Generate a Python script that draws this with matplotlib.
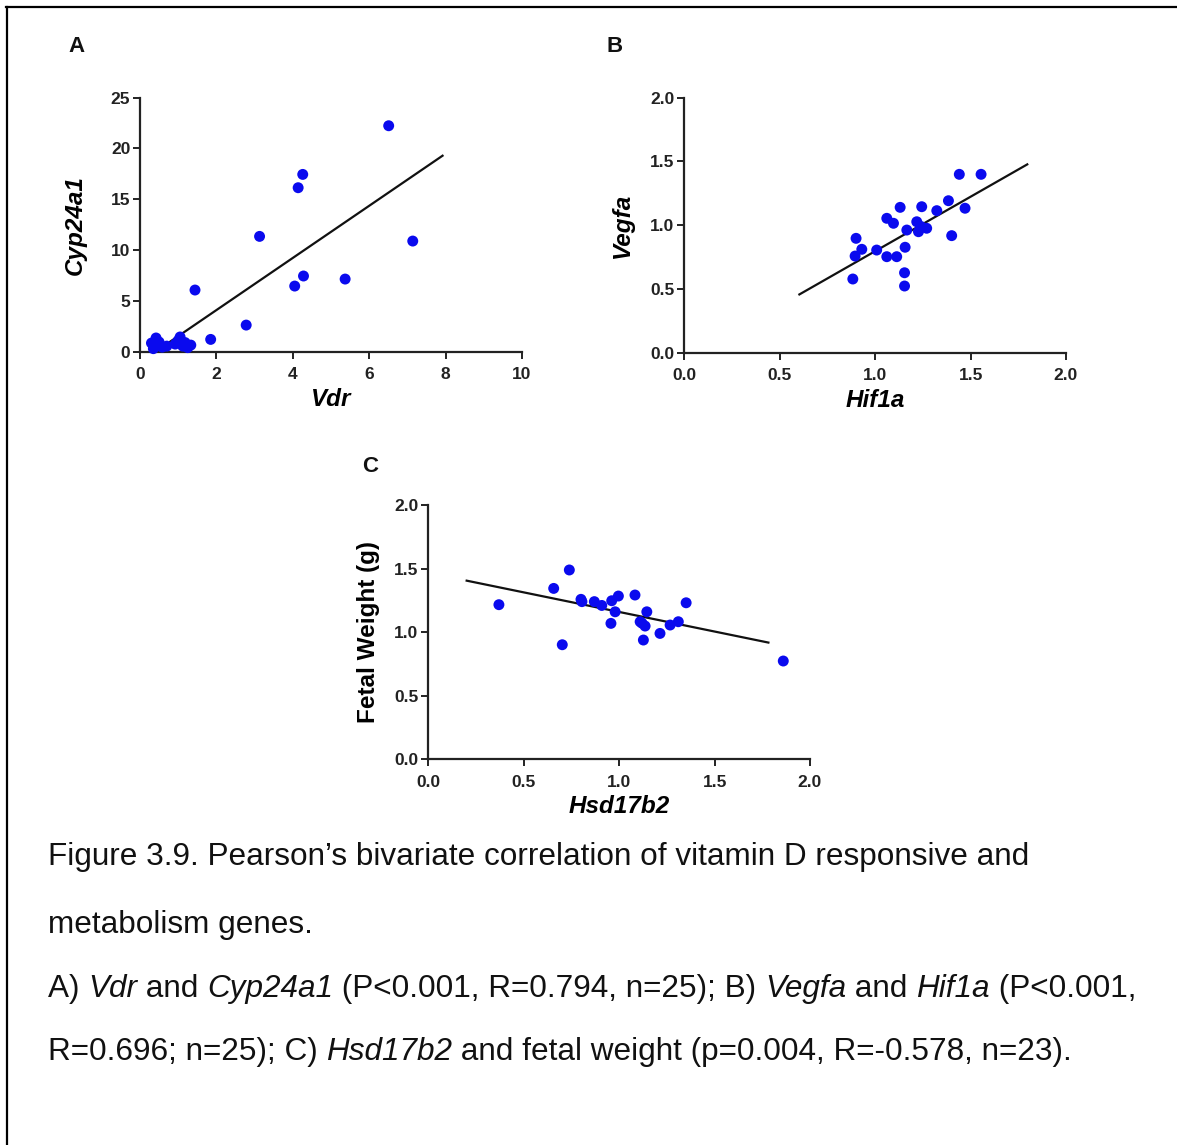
import matplotlib
matplotlib.use('Agg')
import matplotlib.pyplot as plt
from matplotlib.lines import Line2D

plt.rcParams['font.family'] = ['Liberation Sans', 'DejaVu Sans']

# A) Vdr vs Cyp24a1
vdr = [6.51, 4.26, 4.14, 3.13, 7.14, 4.28, 4.05, 5.37, 1.44, 2.78, 1.85,
       0.30, 0.35, 0.42, 0.45, 0.50, 0.58, 0.70,
       0.92, 1.00, 1.05, 1.12, 1.18, 1.25, 1.33]
cyp24a1 = [22.24, 17.45, 16.14, 11.35, 10.89, 7.45, 6.46, 7.15, 6.07, 2.62, 1.21,
           0.85, 0.30, 1.35, 0.60, 0.95, 0.45, 0.55,
           0.75, 1.10, 1.45, 0.55, 0.90, 0.40, 0.65]
fit_x_a = [0.79, 7.92]
fit_y_a = [0.99, 19.29]

# B) Hif1a vs Vegfa
hif1a = [1.441, 1.555, 1.131, 1.244, 1.384, 1.323, 1.471, 1.061, 1.096, 1.218,
         1.166, 1.227, 1.270, 1.401, 0.900, 0.930, 0.895, 1.008, 1.061, 1.113,
         1.157, 1.154, 1.154, 0.883, 1.240]
vegfa = [1.399, 1.399, 1.140, 1.145, 1.192, 1.114, 1.133, 1.054, 1.015, 1.027,
         0.962, 0.949, 0.976, 0.918, 0.897, 0.811, 0.758, 0.805, 0.753, 0.753,
         0.827, 0.627, 0.523, 0.578, 0.990]
fit_x_b = [0.603, 1.797]
fit_y_b = [0.457, 1.477]

# C) Hsd17b2 vs fetal weight
hsd17b2 = [0.370, 0.657, 0.739, 0.702, 0.800, 0.805, 0.870, 0.909, 0.961, 0.996,
           1.083, 0.979, 0.957, 1.145, 1.110, 1.136, 1.127, 1.214, 1.267, 1.310,
           1.351, 1.860, 1.120]
fetal_weight = [1.216, 1.344, 1.489, 0.901, 1.258, 1.240, 1.240, 1.210, 1.247, 1.284,
                1.292, 1.160, 1.069, 1.160, 1.082, 1.048, 0.938, 0.990, 1.056, 1.082,
                1.231, 0.773, 1.070]
fit_x_c = [0.201, 1.782]
fit_y_c = [1.405, 0.918]

W, H = 1177, 1145
fig = plt.figure(figsize=(W / 100, H / 100), dpi=100)


def px_axes(x0, y0, x1, y1):
    # pixel box (left, top, right, bottom) -> axes
    return fig.add_axes([x0 / W, 1 - y1 / H, (x1 - x0) / W, (y1 - y0) / H])


def style(ax, xlim, ylim, xticks, yticks, xfmt, yfmt):
    ax.set_xlim(*xlim)
    ax.set_ylim(*ylim)
    ax.set_xticks(xticks)
    ax.set_yticks(yticks)
    ax.set_xticklabels([xfmt.format(t) for t in xticks])
    ax.set_yticklabels([yfmt.format(t) for t in yticks])
    for s in ['top', 'right']:
        ax.spines[s].set_visible(False)
    for s in ['left', 'bottom']:
        ax.spines[s].set_linewidth(1.6)
        ax.spines[s].set_color('#222222')
    ax.tick_params(direction='out', length=5, width=1.4, colors='#222222',
                   labelsize=12.5)
    ax.tick_params(axis='x', pad=6)
    ax.tick_params(axis='y', pad=2)
    for lab in ax.get_xticklabels() + ax.get_yticklabels():
        lab.set_fontweight('bold')
    ax.patch.set_alpha(0)


def panel(ax, x, y, fx, fy):
    ax.scatter(x, y, s=62, color='#0a0aee', edgecolors='none', zorder=3, clip_on=False)
    ax.plot(fx, fy, color='#111111', lw=1.6, zorder=2)


LBL = dict(fontsize=17.5, fontweight='bold')

axA = px_axes(140, 97.7, 522, 351.7)
panel(axA, vdr, cyp24a1, fit_x_a, fit_y_a)
style(axA, (0, 10), (0, 25), [0, 2, 4, 6, 8, 10], [0, 5, 10, 15, 20, 25], '{:d}', '{:d}')
axA.set_xlabel('Vdr', style='italic', labelpad=4, **LBL)
axA.set_ylabel('Cyp24a1', style='italic', labelpad=17, **LBL)

axB = px_axes(684.3, 97.7, 1066, 352.7)
panel(axB, hif1a, vegfa, fit_x_b, fit_y_b)
style(axB, (0, 2), (0, 2), [0, 0.5, 1, 1.5, 2], [0, 0.5, 1, 1.5, 2], '{:.1f}', '{:.1f}')
axB.set_xlabel('Hif1a', style='italic', labelpad=4, **LBL)
axB.set_ylabel('Vegfa', style='italic', labelpad=12, **LBL)

axC = px_axes(428.3, 505, 810, 759.3)
panel(axC, hsd17b2, fetal_weight, fit_x_c, fit_y_c)
style(axC, (0, 2), (0, 2), [0, 0.5, 1, 1.5, 2], [0, 0.5, 1, 1.5, 2], '{:.1f}', '{:.1f}')
axC.set_xlabel('Hsd17b2', style='italic', labelpad=4, **LBL)
axC.set_ylabel('Fetal Weight (g)', labelpad=10, **LBL)

for letter, xp, yp in [('A', 68, 46), ('B', 607, 46), ('C', 362, 466)]:
    fig.text(xp / W, 1 - yp / H, letter, fontsize=16, fontweight='bold',
             ha='left', va='center', color='#111111')

# caption, (text, italic) runs per line
cap = [
    [('Figure 3.9. Pearson\u2019s bivariate correlation of vitamin D responsive and', False)],
    [('metabolism genes.', False)],
    [('A) ', False), ('Vdr', True), (' and ', False), ('Cyp24a1', True),
     (' (P<0.001, R=0.794, n=25); B) ', False), ('Vegfa', True), (' and ', False),
     ('Hif1a', True), (' (P<0.001,', False)],
    [('R=0.696; n=25); C) ', False), ('Hsd17b2', True),
     (' and fetal weight (p=0.004, R=-0.578, n=23).', False)],
]
cap_y = [857, 925, 989, 1052]
renderer = fig.canvas.get_renderer()
for runs, yp in zip(cap, cap_y):
    xpix = 48
    for txt, it in runs:
        t = fig.text(xpix / W, 1 - yp / H, txt, fontsize=22.7, ha='left', va='center',
                     style='italic' if it else 'normal', color='#111111')
        xpix += t.get_window_extent(renderer).width

# frame (top and left only)
fig.add_artist(Line2D([6 / W, 1], [1 - 6.5 / H, 1 - 6.5 / H], color='black', lw=1.6,
                      transform=fig.transFigure))
fig.add_artist(Line2D([6.5 / W, 6.5 / W], [0, 1 - 6.5 / H], color='black', lw=1.6,
                      transform=fig.transFigure))

fig.savefig('out.png', dpi=100)
